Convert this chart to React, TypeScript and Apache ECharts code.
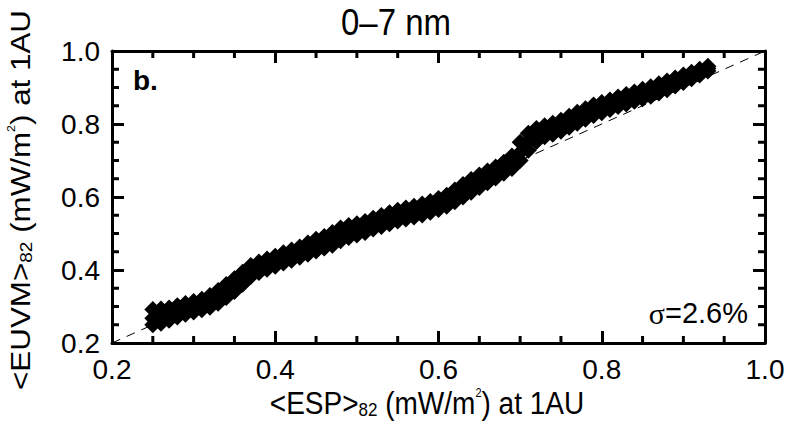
import React, { useEffect, useRef } from "react";
import * as echarts from "echarts";

// ESP (x) sample positions read along the band
const espValues = [
  0.25, 0.26, 0.27, 0.28, 0.29, 0.30, 0.31, 0.32, 0.33, 0.34,
  0.35, 0.36, 0.37, 0.38, 0.39, 0.40, 0.41, 0.42, 0.43, 0.44,
  0.45, 0.46, 0.47, 0.48, 0.49, 0.50, 0.51, 0.52, 0.53, 0.54,
  0.55, 0.56, 0.57, 0.58, 0.59, 0.60, 0.61, 0.62, 0.63, 0.64,
  0.65, 0.66, 0.67, 0.68, 0.69, 0.70, 0.71, 0.72, 0.73, 0.74,
  0.75, 0.76, 0.77, 0.78, 0.79, 0.80, 0.81, 0.82, 0.83, 0.84,
  0.85, 0.86, 0.87, 0.88, 0.89, 0.90, 0.91, 0.92, 0.93,
];
// EUVM values: upper edge, middle and lower edge of the point cloud
const euvmUpper = [
  0.292, 0.293, 0.296, 0.302, 0.308, 0.314, 0.320, 0.330, 0.344, 0.360,
  0.376, 0.394, 0.412, 0.422, 0.430, 0.438, 0.447, 0.455, 0.463, 0.474,
  0.484, 0.492, 0.503, 0.515, 0.522, 0.527, 0.533, 0.542, 0.549, 0.557,
  0.564, 0.570, 0.575, 0.581, 0.588, 0.596, 0.605, 0.619, 0.634, 0.648,
  0.660, 0.671, 0.682, 0.695, 0.712, 0.750, 0.775, 0.788, 0.795, 0.802,
  0.810, 0.821, 0.832, 0.842, 0.852, 0.859, 0.866, 0.874, 0.881, 0.888,
  0.895, 0.902, 0.910, 0.918, 0.926, 0.934, 0.942, 0.950, 0.958,
];
const euvmMid = [
  0.268, 0.272, 0.279, 0.287, 0.294, 0.300, 0.306, 0.314, 0.326, 0.342,
  0.358, 0.378, 0.398, 0.408, 0.416, 0.424, 0.433, 0.441, 0.449, 0.458,
  0.468, 0.476, 0.485, 0.497, 0.505, 0.511, 0.518, 0.527, 0.534, 0.542,
  0.549, 0.555, 0.560, 0.566, 0.573, 0.581, 0.590, 0.603, 0.617, 0.630,
  0.643, 0.655, 0.667, 0.680, 0.694, 0.722, 0.752, 0.770, 0.780, 0.787,
  0.795, 0.806, 0.817, 0.828, 0.838, 0.845, 0.853, 0.861, 0.868, 0.875,
  0.882, 0.889, 0.898, 0.906, 0.915, 0.924, 0.933, 0.942, 0.952,
];
const euvmLower = [
  0.250, 0.254, 0.262, 0.271, 0.279, 0.285, 0.291, 0.298, 0.309, 0.325,
  0.341, 0.361, 0.382, 0.393, 0.402, 0.410, 0.419, 0.427, 0.435, 0.443,
  0.452, 0.460, 0.468, 0.480, 0.489, 0.496, 0.503, 0.512, 0.519, 0.527,
  0.534, 0.540, 0.545, 0.551, 0.558, 0.566, 0.575, 0.587, 0.600, 0.613,
  0.626, 0.639, 0.652, 0.665, 0.678, 0.700, 0.728, 0.752, 0.765, 0.772,
  0.780, 0.791, 0.802, 0.813, 0.823, 0.831, 0.840, 0.848, 0.855, 0.862,
  0.869, 0.876, 0.885, 0.894, 0.904, 0.914, 0.924, 0.934, 0.945,
];
const diagonal = [
  [0.2, 0.2],
  [1.0, 1.0],
];
const axisMin = 0.2;
const axisMax = 1.0;
const majorStep = 0.2;
const minorTicks = [0.25, 0.3, 0.35, 0.45, 0.5, 0.55, 0.65, 0.7, 0.75, 0.85, 0.9, 0.95];

const FONT = "Liberation Sans, Arial, Helvetica, sans-serif";

export default function App() {
  const ref = useRef<HTMLDivElement>(null);
  useEffect(() => {
    if (!ref.current) return;
    const chart = echarts.init(ref.current, undefined, { renderer: "svg" });
    const points: number[][] = [];
    espValues.forEach((x, i) => {
      points.push([x, euvmUpper[i]]);
      points.push([x, euvmMid[i]]);
      points.push([x, euvmLower[i]]);
    });

    const majorAxis = (position: string, showLabel: boolean) => ({
      type: "value" as const,
      position,
      min: axisMin,
      max: axisMax,
      interval: majorStep,
      axisLine: { show: true, onZero: false, lineStyle: { color: "#000", width: 3 } },
      axisTick: { show: true, inside: true, length: 12, lineStyle: { color: "#000", width: 3 } },
      splitLine: { show: false },
      axisLabel: {
        show: showLabel,
        color: "#000",
        fontSize: 28,
        fontFamily: FONT,
        margin: 12,
        formatter: (v: number) => v.toFixed(1),
      },
    });

    const richName = (big: string, sub: string, mid: string, sup: string, end: string) =>
      `{a|${big}}{s|${sub}}{a|${mid}}{p|${sup}}{a|${end}}`;
    const rich = {
      a: { fontSize: 28, fontFamily: FONT, fill: "#000", lineHeight: 30, verticalAlign: "middle" },
      s: { fontSize: 17, fontFamily: FONT, fill: "#000", lineHeight: 14, verticalAlign: "bottom" },
      p: { fontSize: 11, fontFamily: FONT, fill: "#000", lineHeight: 28, verticalAlign: "top" },
    };

    const texts = [
      {
        type: "text",
        x: 396,
        y: 22,
        scaleY: 1.12,
        style: {
          text: "0\u20137 nm",
          fontSize: 33,
          fontFamily: FONT,
          fill: "#000",
          align: "center",
          verticalAlign: "middle",
        },
      },
      {
        type: "text",
        x: 427,
        y: 403,
        scaleY: 1.1,
        style: {
          text: richName("<ESP>", "82", " (mW/m", "2", ") at 1AU"),
          rich,
          align: "center",
          verticalAlign: "middle",
        },
      },
      {
        type: "text",
        x: 20,
        y: 200,
        rotation: Math.PI / 2,
        scaleX: 1.12,
        style: {
          text: richName("<EUVM>", "82", " (mW/m", "2", ") at 1AU"),
          rich,
          align: "center",
          verticalAlign: "middle",
        },
      },
      {
        type: "text",
        x: 133,
        y: 80,
        style: {
          text: "b.",
          fontSize: 28,
          fontWeight: "bold",
          fontFamily: FONT,
          fill: "#000",
          align: "left",
          verticalAlign: "middle",
        },
      },
      {
        type: "text",
        x: 748,
        y: 313,
        style: {
          text: "{g|\u03c3}{n|=2.6%}",
          align: "right",
          verticalAlign: "middle",
          rich: {
            g: { fontSize: 30, fontFamily: "Liberation Serif, DejaVu Serif, serif", fill: "#000" },
            n: { fontSize: 29, fontFamily: FONT, fill: "#000" },
          },
        },
      },
    ];

    chart.setOption({
      animation: false,
      backgroundColor: "#fff",
      grid: { left: 112, right: 26, top: 51, bottom: 79, containLabel: false },
      xAxis: [majorAxis("bottom", true), majorAxis("top", false)],
      yAxis: [majorAxis("left", true), majorAxis("right", false)],
      series: [
        {
          type: "line",
          data: diagonal,
          xAxisIndex: 0,
          yAxisIndex: 0,
          symbol: "none",
          lineStyle: { color: "#000", width: 1, type: [9, 7] },
          z: 1,
        },
        {
          type: "scatter",
          data: points,
          xAxisIndex: 0,
          yAxisIndex: 0,
          symbol: "diamond",
          symbolSize: 17,
          itemStyle: { color: "#000", opacity: 1 },
          z: 2,
        },
      ],
      graphic: texts,
    });

    // Minor ticks on all four sides, positioned through the chart's own scales.
    const xLeft = chart.convertToPixel({ xAxisIndex: 0 }, axisMin) as number;
    const xRight = chart.convertToPixel({ xAxisIndex: 0 }, axisMax) as number;
    const yBottom = chart.convertToPixel({ yAxisIndex: 0 }, axisMin) as number;
    const yTop = chart.convertToPixel({ yAxisIndex: 0 }, axisMax) as number;
    const len = 7;
    const tickEls: any[] = [];
    const tickLine = (x1: number, y1: number, x2: number, y2: number) => ({
      type: "line",
      z: 100,
      shape: { x1, y1, x2, y2 },
      style: { stroke: "#000", lineWidth: 3 },
    });
    minorTicks.forEach((v) => {
      const px = chart.convertToPixel({ xAxisIndex: 0 }, v) as number;
      const py = chart.convertToPixel({ yAxisIndex: 0 }, v) as number;
      tickEls.push(tickLine(px, yBottom, px, yBottom - len));
      tickEls.push(tickLine(px, yTop, px, yTop + len));
      tickEls.push(tickLine(xLeft, py, xLeft + len, py));
      tickEls.push(tickLine(xRight, py, xRight - len, py));
    });
    chart.setOption({ graphic: [...texts, ...tickEls] });

    return () => chart.dispose();
  }, []);
  return (
    <div
      ref={ref}
      style={{ position: "fixed", left: 0, top: 0, width: 791, height: 422, background: "#fff" }}
    />
  );
}
